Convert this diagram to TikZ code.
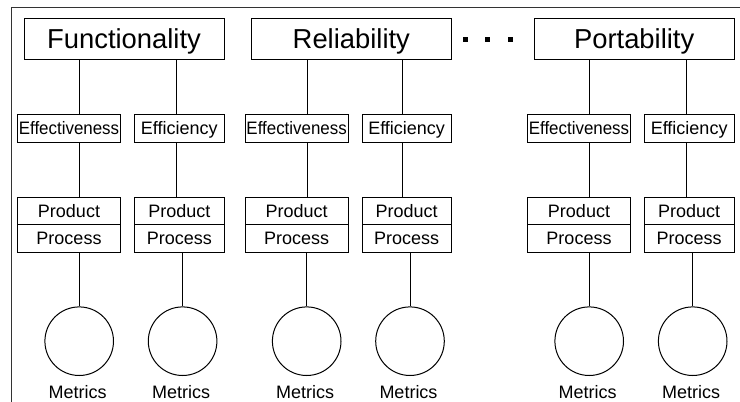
\documentclass[tikz,border=0pt]{standalone}
\usepackage{fontspec}
\usepackage{graphicx}
\setmainfont{Liberation Sans}
\begin{document}
\begin{tikzpicture}[x=1pt,y=-1pt,
  topbox/.style={draw, line width=1pt, rectangle, inner sep=0pt, minimum height=41pt,
    font=\fontsize{27.4}{30}\selectfont, text height=19.6pt, text depth=0pt},
  midbox/.style={draw, line width=1pt, rectangle, inner sep=0pt, minimum height=28pt,
    font=\fontsize{18}{20}\selectfont, text height=12.9pt, text depth=0pt},
  ppbox/.style={draw, line width=1pt, rectangle, inner sep=0pt,
    font=\fontsize{18}{20}\selectfont, text height=12.9pt, text depth=0pt},
  metcircle/.style={draw, line width=1pt, circle, inner sep=0pt, minimum size=68.6pt},
  metlabel/.style={inner sep=0pt, font=\fontsize{18}{20}\selectfont, text height=12.9pt, text depth=0pt},
  conn/.style={line width=1pt},
  dotsq/.style={fill=black, draw=none, rectangle, inner sep=0pt, minimum size=5pt},
  frameline/.style={line width=1.3pt, draw=black!80}
]
\useasboundingbox (0,0) rectangle (740,402);
% frame
\coordinate (fbl) at (11.5,402);
\coordinate (ftl) at (11.5,7.5);
\coordinate (ftr) at (740,7.5);
\draw[frameline] (fbl) -- (ftl) -- (ftr);

% top boxes
\node[topbox, minimum width=200pt] (F) at (124,38.8) {Functionality};
\node[topbox, minimum width=199.3pt] (R) at (351.35,38.8) {Reliability};
\node[topbox, minimum width=199.7pt] (P) at (634.15,38.8) {Portability};

% dots
\node[dotsq] (d1) at (465,39.2) {};
\node[dotsq] (d2) at (487.5,39.2) {};
\node[dotsq] (d3) at (510.8,39.2) {};

% middle boxes
\node[midbox, minimum width=103.4pt] (Ea) at (69,128.3) {\scalebox{0.94}[1]{Effectiveness}};
\node[midbox, minimum width=90pt] (Eb) at (179.3,128.3) {Efficiency};
\node[midbox, minimum width=103.3pt] (Ec) at (296.65,128.3) {\scalebox{0.94}[1]{Effectiveness}};
\node[midbox, minimum width=88.7pt] (Ed) at (406.65,128.3) {Efficiency};
\node[midbox, minimum width=103.4pt] (Ee) at (579,128.3) {\scalebox{0.94}[1]{Effectiveness}};
\node[midbox, minimum width=89.7pt] (Ef) at (689.15,128.3) {Efficiency};

% product / process boxes
\foreach \n/\cx/\w in {a/69/103.4, b/179.3/90, c/296.65/103.3, d/406.65/88.7, e/579/103.4, f/689.15/89.7}{
  \node[ppbox, minimum width=\w pt, minimum height=27pt] (Pd\n) at (\cx,210.8) {Product};
  \node[ppbox, minimum width=\w pt, minimum height=28pt] (Pc\n) at (\cx,238.3) {Process};
}

% circles and labels
\foreach \n/\cx in {a/79.2, b/182.6, c/306.7, d/410, e/589.2, f/692.7}{
  \node[metcircle] (C\n) at (\cx,341.2) {};
  \node[metlabel] (M\n) at ([xshift=-1.5pt]\cx,391.7) {Metrics};
}

% column x coordinates (upper connectors)
\coordinate (ua) at (79.3,0);
\coordinate (ub) at (176,0);
\coordinate (uc) at (307.3,0);
\coordinate (ud) at (402.7,0);
\coordinate (ue) at (589.3,0);
\coordinate (uf) at (686,0);

% connectors top box -> middle boxes
\draw[conn] (ua |- F.south) -- (ua |- Ea.north);
\draw[conn] (ub |- F.south) -- (ub |- Eb.north);
\draw[conn] (uc |- R.south) -- (uc |- Ec.north);
\draw[conn] (ud |- R.south) -- (ud |- Ed.north);
\draw[conn] (ue |- P.south) -- (ue |- Ee.north);
\draw[conn] (uf |- P.south) -- (uf |- Ef.north);

% connectors middle boxes -> product boxes
\foreach \n in {a,b,c,d,e,f}{
  \draw[conn] (u\n |- E\n.south) -- (u\n |- Pd\n.north);
}

% connectors process boxes -> circles
\foreach \n in {a,b,c,d,e,f}{
  \draw[conn] (C\n.north |- Pc\n.south) -- (C\n.north);
}
\end{tikzpicture}
\end{document}
